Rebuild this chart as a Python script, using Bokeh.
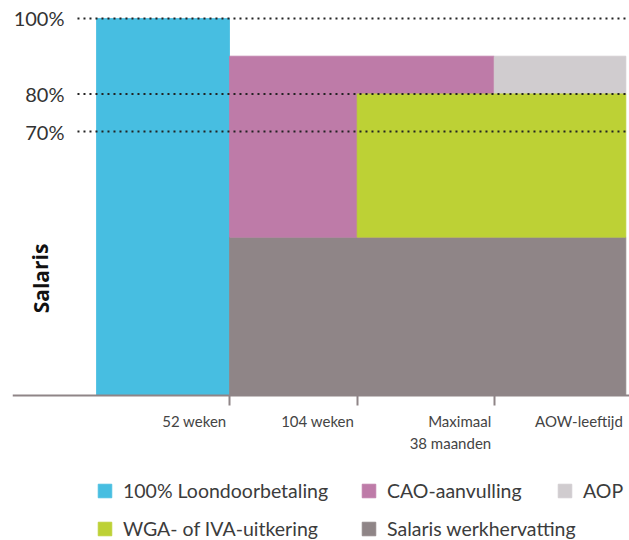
from bokeh.plotting import figure
from bokeh.models import (Range1d, FixedTicker, Legend, LegendItem, Label)
from bokeh.core.properties import value
from bokeh.embed import file_html
from bokeh.resources import INLINE

# ---- data -------------------------------------------------------------
series = ["100% Loondoorbetaling", "CAO-aanvulling", "AOP",
          "WGA- of IVA-uitkering", "Salaris werkhervatting"]
series_colors = ["#47BEE1", "#BE7BA8", "#D0CCCF", "#BDD135", "#8F8587"]

# blocks (drawn in this order): x in units of the first 52-week period,
# y in % of salary; the WGA block is laid over the CAO block
block_series = ["100% Loondoorbetaling", "Salaris werkhervatting",
                "CAO-aanvulling", "AOP", "WGA- of IVA-uitkering"]
block_left = [0, 1, 1, 2.99, 1.96]
block_right = [1, 3.98, 2.99, 3.98, 3.98]
block_bottom = [0, 0, 42, 80, 42]
block_top = [100, 42, 90, 90, 80]

x_ticks = [1, 1.96, 2.99]
x_label_pos = [1, 1.96, 2.99, 3.98]
x_labels = ["52 weken", "104 weken", "Maximaal\n38 maanden", "AOW-leeftijd"]

y_levels = [100, 80, 70]
y_labels = ["100%", "80%", "70%"]

# ---- figure -----------------------------------------------------------
FONT = "Lato"
AXIS_GRAY = "#8F8587"
color_of = dict(zip(series, series_colors))

p = figure(width=629, height=540, output_backend="svg", toolbar_location=None,
           x_range=Range1d(-0.6316, 4.0075), y_range=Range1d(-38.46, 104.77),
           min_border=0, min_border_left=12)
p.outline_line_color = None
p.grid.visible = False
p.background_fill_color = "white"

renderers = {}
for name, l, r_, b, t in zip(block_series, block_left, block_right, block_bottom, block_top):
    col = color_of[name]
    renderers[name] = p.quad(left=[l], right=[r_], bottom=[b], top=[t],
                             fill_color=col, line_color=col, line_width=0.8)

# dotted guide lines on top
guide_start = -0.143
p.segment(x0=[guide_start] * len(y_levels), x1=[p.x_range.end] * len(y_levels),
          y0=y_levels, y1=y_levels, line_color="#222222", line_width=2,
          line_dash="2 4", level="overlay")

# x axis along the baseline
xa = p.xaxis[0]
xa.fixed_location = 0
xa.ticker = FixedTicker(ticks=x_ticks)
xa.major_label_overrides = {t: "" for t in x_ticks}
xa.axis_line_color = AXIS_GRAY
xa.axis_line_width = 2
xa.major_tick_line_color = AXIS_GRAY
xa.major_tick_line_width = 2
xa.major_tick_out = 10
xa.major_tick_in = 0
xa.minor_tick_line_color = None

# y axis at the start of the guide lines
ya = p.yaxis[0]
ya.fixed_location = guide_start
ya.ticker = FixedTicker(ticks=y_levels)
ya.major_label_overrides = {v: l for v, l in zip(y_levels, y_labels)}
ya.axis_line_color = None
ya.major_tick_line_color = None
ya.minor_tick_line_color = None
ya.major_tick_out = 0
ya.major_tick_in = 0
ya.major_label_standoff = 13
ya.major_label_text_font = FONT
ya.major_label_text_font_size = "20px"
ya.major_label_text_color = "#333333"

# right-aligned x labels
p.text(x=x_label_pos, y=[0] * len(x_label_pos), text=x_labels,
       x_offset=-3, y_offset=17, text_align="right", text_baseline="top",
       text_font=value(FONT), text_font_size="15px", text_color="#444444",
       text_line_height=1.2)

# vertical axis title
p.add_layout(Label(x=28, y=262, x_units="screen", y_units="screen", text="Salaris",
                   angle=1.5708, text_align="center", text_baseline="middle",
                   text_font="Open Sans", text_font_style="bold",
                   text_font_size="21px", text_color="#111111"))

# legends
def make_legend(names, loc, ncols):
    leg = Legend(items=[LegendItem(label=n, renderers=[renderers[n]]) for n in names],
                 location=loc, orientation="horizontal", ncols=ncols)
    leg.padding = 0
    leg.margin = 0
    leg.spacing = 14
    leg.border_line_color = None
    leg.background_fill_alpha = 0
    leg.glyph_width = 17
    leg.glyph_height = 17
    leg.label_standoff = 10
    leg.label_width = 223
    leg.label_height = 24
    leg.label_text_font = FONT
    leg.label_text_font_size = "19.5px"
    leg.label_text_color = "#3c3c3c"
    return leg

leg_main = make_legend(["100% Loondoorbetaling", "CAO-aanvulling",
                        "WGA- of IVA-uitkering", "Salaris werkhervatting"], (84, 0), 2)
leg_aop = make_legend(["AOP"], (544, 38), 1)
leg_aop.label_width = 20
p.add_layout(leg_main)
p.add_layout(leg_aop)

open("out.html", "w").write(file_html(p, INLINE))
